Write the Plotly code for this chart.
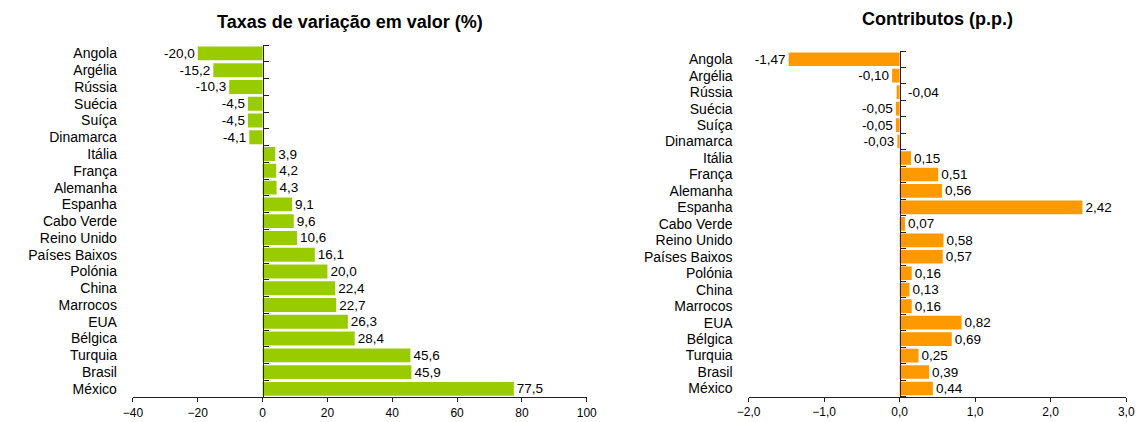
import plotly.graph_objects as go

countries = ["Angola", "Argélia", "Rússia", "Suécia", "Suíça", "Dinamarca", "Itália",
             "França", "Alemanha", "Espanha", "Cabo Verde", "Reino Unido", "Países Baixos",
             "Polónia", "China", "Marrocos", "EUA", "Bélgica", "Turquia", "Brasil", "México"]
taxas = [-20.0, -15.2, -10.3, -4.5, -4.5, -4.1, 3.9, 4.2, 4.3, 9.1, 9.6, 10.6, 16.1,
         20.0, 22.4, 22.7, 26.3, 28.4, 45.6, 45.9, 77.5]
contributos = [-1.47, -0.10, -0.04, -0.05, -0.05, -0.03, 0.15, 0.51, 0.56, 2.42, 0.07,
               0.58, 0.57, 0.16, 0.13, 0.16, 0.82, 0.69, 0.25, 0.39, 0.44]
left_ticks = [-40, -20, 0, 20, 40, 60, 80, 100]
right_ticks = [-2, -1, 0, 1, 2, 3]
title_left = "Taxas de variação em valor (%)"
title_right = "Contributos (p.p.)"

W, H = 1148, 422
FONT = "Liberation Sans, Arial, sans-serif"
GREEN = "#99CC00"
ORANGE = "#FF9900"
AXC = "#222222"

# domains (paper fractions)
lx = [123.3 / W, 586.0 / W]
rx = [751.0 / W, 1136.0 / W]
ly = [1 - 397.3 / H, 1 - 45.0 / H]
ry = [1 - 396.7 / H, 1 - 51.0 / H]

lrange = [left_ticks[0], left_ticks[-1]]
rrange = [right_ticks[0], right_ticks[-1]]
n = len(countries)
yr = [n - 0.5, -0.5]


def fmt(v, d):
    return f"{v:.{d}f}".replace(".", ",")


def zero_pos(dom, rng):
    return dom[0] + (0 - rng[0]) / (rng[1] - rng[0]) * (dom[1] - dom[0])


left_text = [fmt(v, 1) for v in taxas]
right_text = [fmt(v, 2) if c != "Rússia" else "" for c, v in zip(countries, contributos)]

LBL = dict(family=FONT, size=13.5, color="#000000")

fig = go.Figure()
fig.add_trace(go.Bar(
    x=taxas, y=countries, orientation="h", xaxis="x", yaxis="y",
    marker=dict(color=GREEN, line=dict(width=0)),
    text=left_text, textposition="outside", cliponaxis=False, constraintext="none",
    textfont=LBL, hoverinfo="skip", showlegend=False,
))
fig.add_trace(go.Bar(
    x=contributos, y=countries, orientation="h", xaxis="x2", yaxis="y2",
    marker=dict(color=ORANGE, line=dict(width=0)),
    text=right_text, textposition="outside", cliponaxis=False, constraintext="none",
    textfont=LBL, hoverinfo="skip", showlegend=False,
))
# invisible helpers carrying the zero-positioned category axes (tick marks)
fig.add_trace(go.Scatter(x=[0] * n, y=countries, xaxis="x", yaxis="y3", mode="markers",
                         marker=dict(opacity=0), hoverinfo="skip", showlegend=False))
fig.add_trace(go.Scatter(x=[0] * n, y=countries, xaxis="x2", yaxis="y4", mode="markers",
                         marker=dict(opacity=0), hoverinfo="skip", showlegend=False))

xcommon = dict(showgrid=False, zeroline=False, showline=True, linecolor=AXC, linewidth=1,
               ticks="outside", ticklen=4, tickcolor=AXC,
               tickfont=dict(family=FONT, size=12, color="#000000"), fixedrange=True)
ycommon = dict(showgrid=False, zeroline=False, showline=False, ticks="",
               type="category", categoryorder="array", categoryarray=countries, range=yr,
               tickmode="array", tickvals=countries, ticktext=countries,
               tickfont=dict(family=FONT, size=14, color="#000000"), ticklabelstandoff=15,
               fixedrange=True)
yzero = dict(showgrid=False, zeroline=False, showline=True, linecolor=AXC, linewidth=1,
             ticks="outside", ticklen=5, tickcolor=AXC, tickson="boundaries",
             tickmode="array", tickvals=countries,
             showticklabels=False, side="right", anchor="free",
             type="category", categoryorder="array", categoryarray=countries, range=yr,
             fixedrange=True)

# Rússia label in the contributions chart sits to the right of the axis
ri = countries.index("Rússia")
annotations = [
    dict(text=f"<b>{title_left}</b>", x=345 / W, y=1 - 22 / H, xref="paper", yref="paper",
         xanchor="center", yanchor="middle", showarrow=False,
         font=dict(family=FONT, size=18, color="#000000")),
    dict(text=f"<b>{title_right}</b>", x=944 / W, y=1 - 19 / H, xref="paper", yref="paper",
         xanchor="center", yanchor="middle", showarrow=False,
         font=dict(family=FONT, size=18, color="#000000")),
    dict(text=fmt(contributos[ri], 2), x=0, y=countries[ri], xref="x2", yref="y2",
         xanchor="left", yanchor="middle", xshift=6, showarrow=False, font=LBL),
]

fig.update_layout(
    width=W, height=H, margin=dict(l=0, r=0, t=0, b=0),
    paper_bgcolor="white", plot_bgcolor="white",
    separators=",.", bargap=0.17, showlegend=False,
    font=dict(family=FONT, size=12, color="#000000"),
    xaxis=dict(domain=lx, range=lrange, tickvals=left_ticks, tickformat="d", anchor="y", **xcommon),
    yaxis=dict(domain=ly, anchor="x", **ycommon),
    xaxis2=dict(domain=rx, range=rrange, tickvals=right_ticks, tickformat=".1f", anchor="y2", **xcommon),
    yaxis2=dict(domain=ry, anchor="x2", **ycommon),
    yaxis3=dict(overlaying="y", position=zero_pos(lx, lrange), **yzero),
    yaxis4=dict(overlaying="y2", position=zero_pos(rx, rrange), **yzero),
    annotations=annotations,
)

fig.write_html("out.html", config={"displayModeBar": False},
               post_script="document.body.style.margin='0';document.body.style.overflow='hidden';")
